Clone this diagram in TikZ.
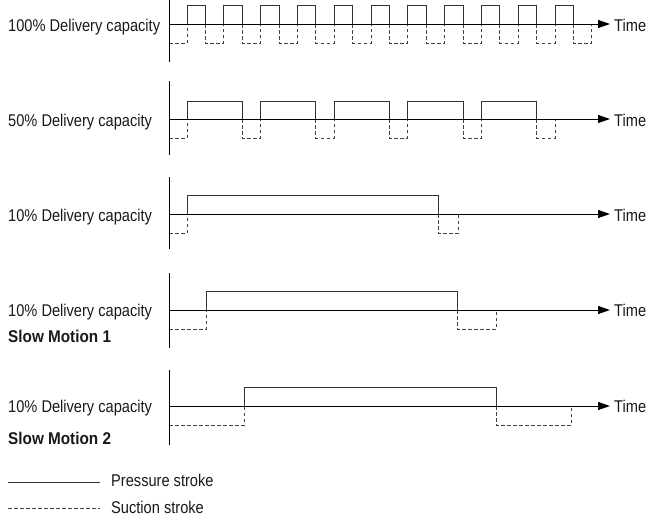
\documentclass[tikz,border=0pt]{standalone}
\usepackage{fontspec}
\setmainfont{Liberation Sans}[FakeStretch=0.86, BoldFeatures={FakeStretch=0.9}]
\usetikzlibrary{arrows.meta}
\begin{document}
\begin{tikzpicture}[x=1pt,y=-1pt,
  lbl/.style={anchor=base west, inner sep=0pt, text=black!90, font=\fontsize{17}{19}\selectfont},
  blbl/.style={lbl, font=\fontsize{17}{19}\selectfont\bfseries},
  axis/.style={line width=1pt, black},
  timeaxis/.style={axis, -{Triangle[length=12pt,width=8pt]}},
  press/.style={line width=1pt, black!80},
  suct/.style={line width=0.9pt, black!75, dash pattern=on 3.5pt off 2.5pt}]
\useasboundingbox (0,0) rectangle (649,517);

% ---------- Row 1 : 100% ----------
\node[lbl] (l1) at (8,31) {100\% Delivery capacity};
\draw[suct] (169,43) -| (187,24);
\foreach \k in {0,...,10} {
  \pgfmathsetmacro\r{187+36.8*\k}
  \pgfmathsetmacro\f{\r+18.4}
  \pgfmathsetmacro\n{\f+18.4}
  \draw[press] (\r,24) |- (\f,5) -- (\f,24);
  \draw[suct] (\f,24) |- (\n,43) -- (\n,24);
}
\coordinate (v1a) at (169,-2); \coordinate (v1b) at (169,62);
\coordinate (h1a) at (169,24); \coordinate (h1b) at (610,24);
\draw[axis] (v1a) -- (v1b);
\draw[timeaxis] (h1a) -- (h1b);
\node[lbl] (t1) at (614,31) {Time};

% ---------- Row 2 : 50% ----------
\node[lbl] (l2) at (8,126) {50\% Delivery capacity};
\draw[suct] (169,138) -| (187,119);
\foreach \k in {0,...,4} {
  \pgfmathsetmacro\r{187+73.6*\k}
  \pgfmathsetmacro\f{\r+55.2}
  \pgfmathsetmacro\n{\f+18.4}
  \draw[press] (\r,119) |- (\f,101) -- (\f,119);
  \draw[suct] (\f,119) |- (\n,138) -- (\n,119);
}
\coordinate (v2a) at (169,81); \coordinate (v2b) at (169,155);
\coordinate (h2a) at (169,119); \coordinate (h2b) at (610,119);
\draw[axis] (v2a) -- (v2b);
\draw[timeaxis] (h2a) -- (h2b);
\node[lbl] (t2) at (614,126) {Time};

% ---------- Row 3 : 10% ----------
\node[lbl] (l3) at (8,221) {10\% Delivery capacity};
\draw[suct] (169,233) -| (187,214);
\draw[press] (187,214) |- (438,195) -- (438,214);
\draw[suct] (438,214) |- (458,233) -- (458,214);
\coordinate (v3a) at (169,177); \coordinate (v3b) at (169,249);
\coordinate (h3a) at (169,214); \coordinate (h3b) at (610,214);
\draw[axis] (v3a) -- (v3b);
\draw[timeaxis] (h3a) -- (h3b);
\node[lbl] (t3) at (614,221) {Time};

% ---------- Row 4 : Slow Motion 1 ----------
\node[lbl] (l4) at (8,316.5) {10\% Delivery capacity};
\node[blbl] (s4) at (8,342) {Slow Motion 1};
\draw[suct] (169,329) -| (206,310);
\draw[press] (206,310) |- (457,291) -- (457,310);
\draw[suct] (457,310) |- (496,329) -- (496,310);
\coordinate (v4a) at (169,273); \coordinate (v4b) at (169,348);
\coordinate (h4a) at (169,310); \coordinate (h4b) at (610,310);
\draw[axis] (v4a) -- (v4b);
\draw[timeaxis] (h4a) -- (h4b);
\node[lbl] (t4) at (614,316.5) {Time};

% ---------- Row 5 : Slow Motion 2 ----------
\node[lbl] (l5) at (8,412.5) {10\% Delivery capacity};
\node[blbl] (s5) at (8,444) {Slow Motion 2};
\draw[suct] (169,425) -| (244,406);
\draw[press] (244,406) |- (496,387) -- (496,406);
\draw[suct] (496,406) |- (571,425) -- (571,406);
\coordinate (v5a) at (169,370); \coordinate (v5b) at (169,445);
\coordinate (h5a) at (169,406); \coordinate (h5b) at (610,406);
\draw[axis] (v5a) -- (v5b);
\draw[timeaxis] (h5a) -- (h5b);
\node[lbl] (t5) at (614,412.5) {Time};

% ---------- Legend ----------
\coordinate (pa) at (8,482); \coordinate (pb) at (100,482);
\draw[press] (pa) -- (pb);
\node[lbl] (lp) at (111,486) {Pressure stroke};
\coordinate (sa) at (8,508); \coordinate (sb) at (100,508);
\draw[suct] (sa) -- (sb);
\node[lbl] (ls) at (111,513) {Suction stroke};
\end{tikzpicture}
\end{document}
